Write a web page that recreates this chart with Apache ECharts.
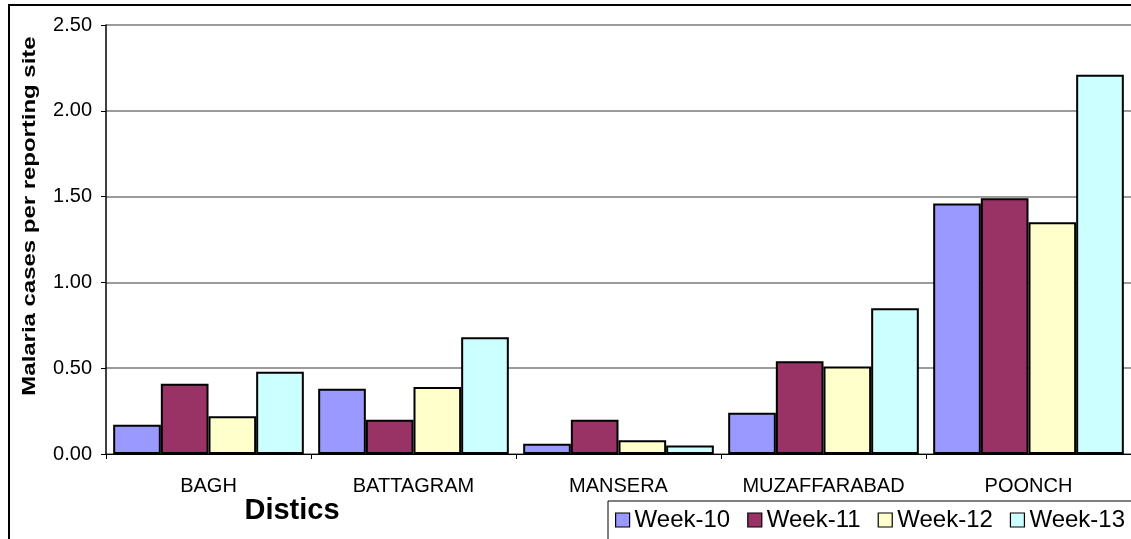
<!DOCTYPE html>
<html>
<head>
<meta charset="utf-8">
<script src="https://cdn.jsdelivr.net/npm/echarts@6/dist/echarts.min.js"></script>
<style>
  html, body { margin: 0; padding: 0; background: #fff; }
  #chart { width: 1131px; height: 539px; }
</style>
</head>
<body>
<div id="chart"></div>
<script>
const categories = ['BAGH', 'BATTAGRAM', 'MANSERA', 'MUZAFFARABAD', 'POONCH'];
const seriesNames = ['Week-10', 'Week-11', 'Week-12', 'Week-13'];
const week10 = [0.17, 0.38, 0.06, 0.24, 1.46];
const week11 = [0.41, 0.20, 0.20, 0.54, 1.49];
const week12 = [0.22, 0.39, 0.08, 0.51, 1.35];
const week13 = [0.48, 0.68, 0.05, 0.85, 2.21];
const yTicks = { min: 0, max: 2.5, interval: 0.5 };
const yTitle = 'Malaria cases per reporting site';
const xTitle = 'Distics';

const colors = ['#9999FF', '#993366', '#FFFFCC', '#CCFFFF'];
const values = [week10, week11, week12, week13];
const FONT = 'Liberation Sans, Arial, sans-serif';

const chart = echarts.init(document.getElementById('chart'), null, { renderer: 'canvas' });

const series = seriesNames.map((name, i) => ({
  name: name,
  type: 'bar',
  data: values[i],
  barGap: '0%',
  barCategoryGap: '7%',
  itemStyle: { color: colors[i], borderColor: '#000', borderWidth: 2 },
  emphasis: { disabled: true }
}));

chart.setOption({
  animation: false,
  backgroundColor: '#fff',
  grid: { left: 106, top: 25, right: -6, bottom: 85, containLabel: false },
  xAxis: {
    type: 'category',
    data: categories,
    axisLine: { lineStyle: { color: '#000', width: 1 } },
    axisTick: { show: true, length: 5, lineStyle: { color: '#000' } },
    axisLabel: { color: '#000', fontSize: 20, fontFamily: FONT, margin: 22, interval: 0, hideOverlap: false },
    splitLine: { show: false }
  },
  yAxis: {
    type: 'value',
    min: yTicks.min,
    max: yTicks.max,
    interval: yTicks.interval,
    axisLine: { show: true, lineStyle: { color: '#000', width: 1.5 } },
    axisTick: { show: true, length: 5, lineStyle: { color: '#000' } },
    axisLabel: {
      color: '#000', fontSize: 20, fontFamily: FONT, margin: 14,
      formatter: v => v.toFixed(2)
    },
    splitLine: { show: true, lineStyle: { color: '#7a7a7a', width: 1.5 } }
  },
  legend: {
    data: seriesNames,
    left: 608,
    top: 501,
    width: 800,
    orient: 'horizontal',
    icon: 'rect',
    itemWidth: 14,
    itemHeight: 14,
    itemGap: 17,
    padding: [7, 30, 30, 7],
    borderColor: '#000',
    borderWidth: 1,
    backgroundColor: '#fff',
    textStyle: { color: '#000', fontSize: 24, fontFamily: FONT },
    itemStyle: { borderColor: '#000', borderWidth: 1.2 }
  },
  graphic: [
    {
      type: 'rect',
      shape: { x: 9, y: 5, width: 1300, height: 700 },
      style: { fill: 'none', stroke: '#000', lineWidth: 2 },
      silent: true,
      z: -1
    },
    {
      type: 'text',
      x: 30,
      y: 216,
      rotation: Math.PI / 2,
      scaleX: 1.33,
      style: {
        text: yTitle,
        fontSize: 18,
        fontWeight: 'bold',
        fontFamily: FONT,
        fill: '#000',
        align: 'center',
        verticalAlign: 'middle'
      },
      silent: true
    },
    {
      type: 'text',
      x: 292,
      y: 511,
      style: {
        text: xTitle,
        fontSize: 29,
        fontWeight: 'bold',
        fontFamily: FONT,
        fill: '#000',
        align: 'center',
        verticalAlign: 'middle'
      },
      silent: true
    }
  ],
  series: series
});
</script>
</body>
</html>
